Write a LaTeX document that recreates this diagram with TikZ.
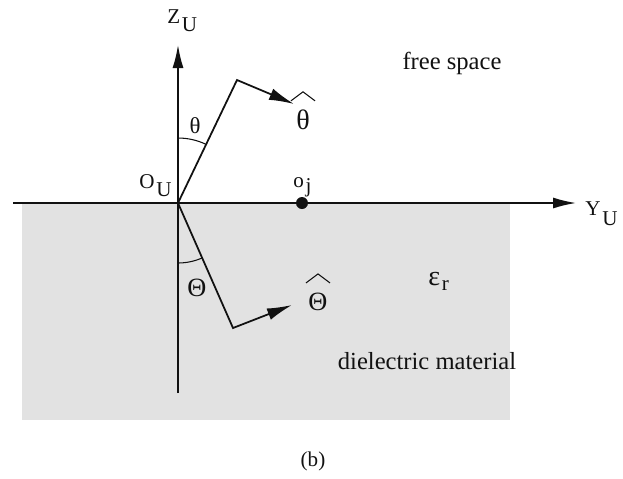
\documentclass[tikz,border=0pt]{standalone}
\usepackage{fontspec}
\setmainfont{Liberation Serif}
\usetikzlibrary{arrows.meta}
\definecolor{ink}{HTML}{111111}
\definecolor{dotgray}{HTML}{E2E2E2}
\newcommand{\lowsub}[2][5pt]{\hspace{1pt}\raisebox{-#1}{#2}}

\begin{document}
\begin{tikzpicture}[x=0.02cm,y=-0.02cm,every node/.style={font=\fontsize{14}{16}\selectfont,text=ink},axis/.style={-{Latex[length=4.6mm,width=2.2mm]},line width=0.9pt,draw=ink},vec/.style={-{Latex[length=5mm,width=2.4mm]},line width=1pt,draw=ink},angarc/.style={line width=0.6pt,draw=ink},hatline/.style={line width=0.6pt,draw=ink},lbl/.style={anchor=base west,inner sep=0pt,font=\fontsize{12}{14}\selectfont},greek/.style={font=\fontsize{15}{17}\selectfont}]
\useasboundingbox (0,0) rectangle (623,478);
\fill[dotgray] (22,204) rectangle (510,420);
\coordinate (o) at (178,203);
\coordinate (ztop) at (178,45);\coordinate (zbot) at (178,393);
\coordinate (yleft) at (13,203);\coordinate (ytip) at (576,203);
\coordinate (tkink) at (237,80);\coordinate (ttip) at (294,104);
\coordinate (Tkink) at (233,328);\coordinate (Ttip) at (292,305);
\node[circle,fill=ink,inner sep=0pt,minimum size=2.4mm] (oj) at (302,203) {};
\draw[axis] (zbot) -- (ztop);\draw[axis] (yleft) -- (ytip);
\draw[vec] (o) -- (tkink) -- (ttip);\draw[vec] (o) -- (Tkink) -- (Ttip);
\draw[angarc] (178,138) arc[start angle=-90,end angle=-64.4,radius=65];
\draw[angarc] (178,263) arc[start angle=90,end angle=66.2,radius=60];
% axis and point labels
\node[lbl] (zu) at (167,23) {Z\lowsub{U}};
\node[lbl] (yu) at (585,215) {Y\lowsub[6pt]{U}};
\node[lbl] (ou) at (139,188) {O\lowsub{U}};
\node[lbl] (ojl) at (293,187) {o\lowsub[3pt]{j}};
% angles and unit vectors
\node[greek,font=\fontsize{13}{15}\selectfont] (th) at (195,126) {θ};
\node[greek,font=\fontsize{16}{18}\selectfont] (thhat) at (303,120) {θ};
\draw[hatline] (thhat.north) ++(-12,-3) -- ++(12,-9) -- ++(12,9);
\node[greek] (Th) at (197,288) {Θ};
\node[greek] (Thhat) at (318,302) {Θ};
\draw[hatline] (Thhat.north) ++(-12,-4) -- ++(12,-9) -- ++(12,9);
\node[lbl,font=\fontsize{16}{18}\selectfont] (eps) at (428,285) {ε\lowsub[3pt]{\fontsize{12}{14}\selectfont r}};
% regions
\node (free) at (452,63) {free space};
\node (diel) at (427,361) {dielectric material};
\node[font=\fontsize{12}{14}\selectfont] (cap) at (313,461) {(b)};
\end{tikzpicture}
\end{document}
